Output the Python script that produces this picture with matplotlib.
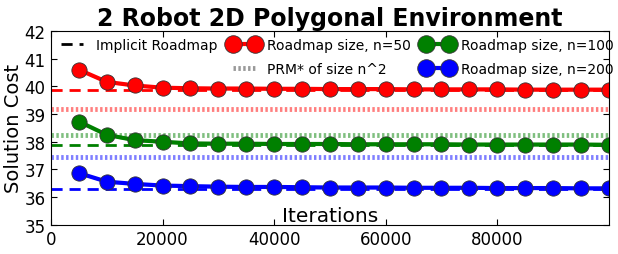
import matplotlib
matplotlib.use('Agg')
import matplotlib.pyplot as plt
from matplotlib.lines import Line2D

# iterations
iters = [5000, 10000, 15000, 20000, 25000, 30000, 35000, 40000, 45000, 50000,
         55000, 60000, 65000, 70000, 75000, 80000, 85000, 90000, 95000, 100000]

# roadmap solution costs
cost_50 = [40.60, 40.16, 40.03, 39.95, 39.93, 39.92, 39.92, 39.91, 39.91, 39.90,
           39.90, 39.90, 39.89, 39.89, 39.89, 39.89, 39.88, 39.88, 39.88, 39.88]
cost_100 = [38.73, 38.25, 38.06, 38.00, 37.94, 37.93, 37.93, 37.92, 37.92, 37.92,
            37.91, 37.91, 37.91, 37.91, 37.90, 37.90, 37.90, 37.90, 37.90, 37.89]
cost_200 = [36.87, 36.56, 36.48, 36.42, 36.40, 36.38, 36.37, 36.37, 36.36, 36.35,
            36.35, 36.35, 36.34, 36.34, 36.34, 36.33, 36.33, 36.33, 36.32, 36.32]
spread = 0.05

sizes = [50, 100, 200]
colors = ['r', 'g', 'b']
implicit = [39.88, 37.87, 36.28]
prm_star = [39.17, 38.26, 37.45]

fig = plt.figure(figsize=(6.18, 2.55), dpi=100)
ax = fig.add_axes([0.0825, 0.114, 0.9025, 0.761])

handles = {}
for n, c, costs, imp, prm in zip(sizes, colors, [cost_50, cost_100, cost_200], implicit, prm_star):
    ax.axhline(imp, color=c, ls='--', lw=2, dashes=(4, 2.5))
    ax.axhline(prm, color=c, lw=3.5, alpha=0.5, dashes=(0.5, 0.5))
    ax.fill_between(iters, [v - spread for v in costs], [v + spread for v in costs],
                    color=c, alpha=0.35, lw=0)
    h, = ax.plot(iters, costs, color=c, lw=3, marker='o', markersize=11,
                 markeredgecolor='#333333', markeredgewidth=0.6, clip_on=True,
                 label='Roadmap size, n=%d' % n)
    handles[n] = h

h_imp = Line2D([], [], color='k', ls='--', lw=2, dashes=(4, 2.5), label='Implicit Roadmap')
h_prm = Line2D([], [], color='gray', lw=3.5, alpha=0.8, dashes=(0.5, 0.5), label='PRM* of size n^2')
h_blank = Line2D([], [], alpha=0, label=' ')

leg = ax.legend([h_imp, h_blank, handles[50], h_prm, handles[100], handles[200]],
                ['Implicit Roadmap', '', 'Roadmap size, n=50', 'PRM* of size n^2',
                 'Roadmap size, n=100', 'Roadmap size, n=200'],
                ncol=3, loc='upper center', bbox_to_anchor=(0.51, 1.03), frameon=False,
                fontsize=10, numpoints=2, markerscale=1.15, handlelength=2.2,
                columnspacing=0.8, handletextpad=0.6, labelspacing=0.75)

ax.set_xlim(0, 100000)
ax.set_ylim(35, 42)
ax.set_xticks([0, 20000, 40000, 60000, 80000])
ax.set_yticks([35, 36, 37, 38, 39, 40, 41, 42])
ax.tick_params(direction='in', top=True, right=True, labelsize=12, length=4, pad=4)
ax.set_ylabel('Solution Cost', fontsize=14, labelpad=1)
ax.set_xlabel('Iterations', fontsize=14.5)
ax.xaxis.set_label_coords(0.5, 0.095)
ax.set_title('2 Robot 2D Polygonal Environment', fontsize=17, fontweight='bold', pad=4)

fig.savefig('out.png', dpi=100)
